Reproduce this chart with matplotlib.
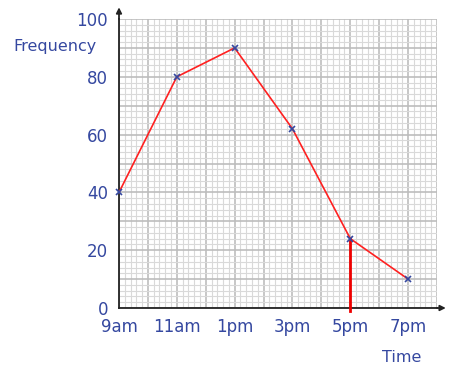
import matplotlib.pyplot as plt
import numpy as np

hours = [9, 11, 13, 15, 17, 19]
tick_labels = ["9am", "11am", "1pm", "3pm", "5pm", "7pm"]
frequency = [40, 80, 90, 62, 24, 10]
y_ticks = [0, 20, 40, 60, 80, 100]
read_off_hour = 17
read_off_value = 24

blue = "#3548a0"
fig = plt.figure(figsize=(4.63, 3.79), dpi=100)
ax = fig.add_axes([119 / 463, 1 - 308 / 379, (437 - 119) / 463, (308 - 19) / 379])
ax.set_xlim(9, 20)
ax.set_ylim(0, 100)

# graph paper
for v in np.arange(9, 20.01, 0.2):
    major = abs(v - round(v)) < 1e-6
    ax.axvline(v, color="#bdbdbd" if major else "#d9d9d9", lw=1.2 if major else 0.8, zorder=0)
for v in np.arange(0, 100.01, 2):
    major = v % 10 == 0
    ax.axhline(v, color="#bdbdbd" if major else "#d9d9d9", lw=1.2 if major else 0.8, zorder=0)

for s in ["top", "right"]:
    ax.spines[s].set_visible(False)
for s in ["left", "bottom"]:
    ax.spines[s].set_linewidth(1.3)
    ax.spines[s].set_color("#222222")

# axis arrows
ax.annotate("", xy=(20.4, 0), xytext=(19.9, 0), xycoords="data",
            arrowprops=dict(arrowstyle="-|>", color="#222222", lw=1.3, mutation_scale=8),
            annotation_clip=False)
ax.annotate("", xy=(9, 105), xytext=(9, 99), xycoords="data",
            arrowprops=dict(arrowstyle="-|>", color="#222222", lw=1.3, mutation_scale=8),
            annotation_clip=False)

ax.plot(hours, frequency, color="#ff2020", lw=1.2, zorder=3)
ax.plot(hours, frequency, "x", color=blue, ms=5, mew=1.2, zorder=4, clip_on=False)
ax.plot([read_off_hour, read_off_hour], [-1, read_off_value], color="#ee0000", lw=2, zorder=3,
        clip_on=False)

ax.set_xticks(hours)
ax.set_xticklabels(tick_labels)
ax.set_yticks(y_ticks)
ax.tick_params(length=0, labelsize=12, labelcolor=blue)
ax.tick_params(axis="x", pad=7)
ax.tick_params(axis="y", pad=8)

fig.text(13 / 463, 1 - 47 / 379, "Frequency", color=blue, fontsize=11.5, va="center")
fig.text(402 / 463, 1 - 358 / 379, "Time", color=blue, fontsize=11.5, va="center", ha="center")

fig.savefig("out.png", dpi=100)
